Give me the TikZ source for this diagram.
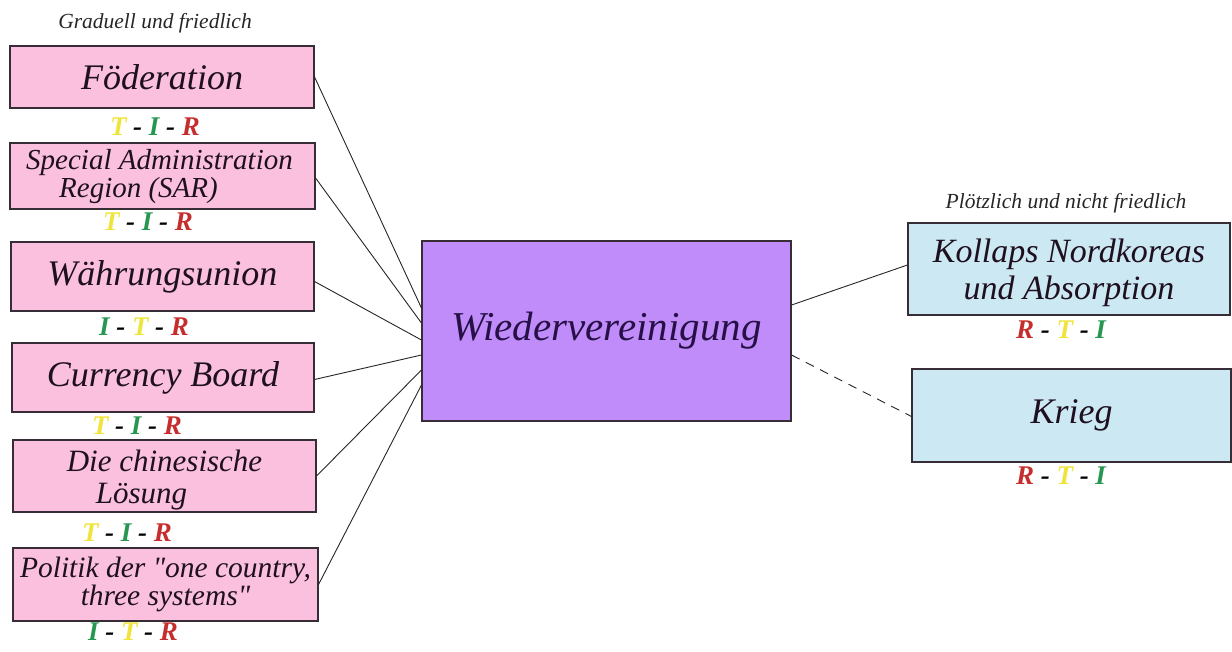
\documentclass[tikz,border=0pt]{standalone}
\usepackage{fontspec}
\setmainfont{Liberation Serif}[Ligatures=TeXOff]
\usetikzlibrary{calc}

\definecolor{pinkfill}{RGB}{250,192,222}
\definecolor{violetfill}{RGB}{192,140,250}
\definecolor{bluefill}{RGB}{204,232,242}
\definecolor{boxedge}{RGB}{55,45,55}
\definecolor{boxtext}{RGB}{30,16,30}
\definecolor{maintext}{RGB}{38,16,70}
\definecolor{tcol}{RGB}{240,228,60}
\definecolor{icol}{RGB}{38,150,80}
\definecolor{rcol}{RGB}{198,45,45}

% rating letters
\newcommand{\rateT}{\textcolor{tcol}{T}}
\newcommand{\rateI}{\textcolor{icol}{I}}
\newcommand{\rateR}{\textcolor{rcol}{R}}

\tikzset{
  optbox/.style={draw=boxedge, line width=1.1pt, inner sep=0pt, align=center,
    text=boxtext, font=\itshape},
  leftbox/.style={optbox, fill=pinkfill},
  rightbox/.style={optbox, fill=bluefill},
  centerbox/.style={optbox, fill=violetfill, text=maintext},
  boxlabel/.style={inner sep=0pt, align=center, text=boxtext},
  rating/.style={inner sep=0pt, font=\fontsize{27}{27}\selectfont\bfseries\itshape},
  header/.style={inner sep=0pt, anchor=base, text=black!85,
    font=\fontsize{21.5}{22}\selectfont\itshape},
  link/.style={line width=0.9pt, black!85},
}

\begin{document}
\begin{tikzpicture}[x=1pt, y=-1pt]
\useasboundingbox (0,0) rectangle (1232,651);

% headers
\node[header] (hl) at (155,28) {Graduell und friedlich};
\node[header] (hr) at (1066,208) {Plötzlich und nicht friedlich};

% gradual and peaceful options
\node[leftbox, minimum width=304pt, minimum height=62pt,
  font=\fontsize{36}{38}\selectfont\itshape] (fod) at (162,77) {Föderation};
\node[leftbox, minimum width=305pt, minimum height=66pt] (sar) at (162.5,176) {};
\node[boxlabel, font=\fontsize{29}{28}\selectfont\itshape] (sart)
  at ($(sar.center)+(-3,1)$) {Special Administration\\Region (SAR)\hspace*{42pt}};
\node[leftbox, minimum width=303pt, minimum height=69pt,
  font=\fontsize{36}{38}\selectfont\itshape] (wae) at (162.5,276.5) {Währungsunion};
\node[leftbox, minimum width=302pt, minimum height=69pt,
  font=\fontsize{36}{38}\selectfont\itshape] (cur) at (163,377.5) {Currency Board};
\node[leftbox, minimum width=303pt, minimum height=72pt] (chi) at (164.5,476) {};
\node[boxlabel, font=\fontsize{31}{32}\selectfont\itshape] (chit)
  at ($(chi.center)+(0,4)$) {Die chinesische\\Lösung\hspace*{46pt}};
\node[leftbox, minimum width=305pt, minimum height=73pt,
  font=\fontsize{29.5}{28}\selectfont\itshape] (pol) at (165.5,584.5)
  {Politik der "one country,\\three systems"};

% ratings under the left boxes
\node[rating] (fodr) at (155,127) {\rateT{} - \rateI{} - \rateR};
\node[rating] (sarr) at (148,222) {\rateT{} - \rateI{} - \rateR};
\node[rating] (waer) at (144,327) {\rateI{} - \rateT{} - \rateR};
\node[rating] (curr) at (137,426) {\rateT{} - \rateI{} - \rateR};
\node[rating] (chir) at (127,533) {\rateT{} - \rateI{} - \rateR};
\node[rating] (polr) at (133,632) {\rateI{} - \rateT{} - \rateR};

% central node
\node[centerbox, minimum width=369pt, minimum height=180pt,
  font=\fontsize{41}{42}\selectfont\itshape] (wie) at (606.5,331) {Wiedervereinigung};

% sudden and non-peaceful options
\node[rightbox, minimum width=322pt, minimum height=92pt] (kol) at (1069,269) {};
\node[boxlabel, font=\fontsize{34}{37}\selectfont\itshape] (kolt)
  at ($(kol.center)+(0,4)$) {Kollaps Nordkoreas\\und Absorption};
\node[rightbox, minimum width=319pt, minimum height=93pt,
  font=\fontsize{36}{38}\selectfont\itshape] (kri) at (1071.5,415.5) {Krieg};

\node[rating] (kolr) at (1061,330) {\rateR{} - \rateT{} - \rateI};
\node[rating] (krir) at (1061,476) {\rateR{} - \rateT{} - \rateI};

% connectors into the central node
\draw[link] (fod.east) -- ($(wie.west)+(0,-23)$);
\draw[link] ($(sar.east)+(0,2)$) -- ($(wie.west)+(0,-8)$);
\draw[link] ($(wae.east)+(0,5)$) -- ($(wie.west)+(0,9)$);
\draw[link] ($(cur.east)+(0,2)$) -- ($(wie.west)+(0,24)$);
\draw[link] (chi.east) -- ($(wie.west)+(0,39)$);
\draw[link] (pol.east) -- ($(wie.west)+(0,54)$);

\draw[link] ($(wie.east)+(0,-26)$) -- ($(kol.west)+(0,-4)$);
\draw[link, dash pattern=on 9pt off 7pt] ($(wie.east)+(0,24)$) -- ($(kri.west)+(0,1)$);
\end{tikzpicture}
\end{document}
